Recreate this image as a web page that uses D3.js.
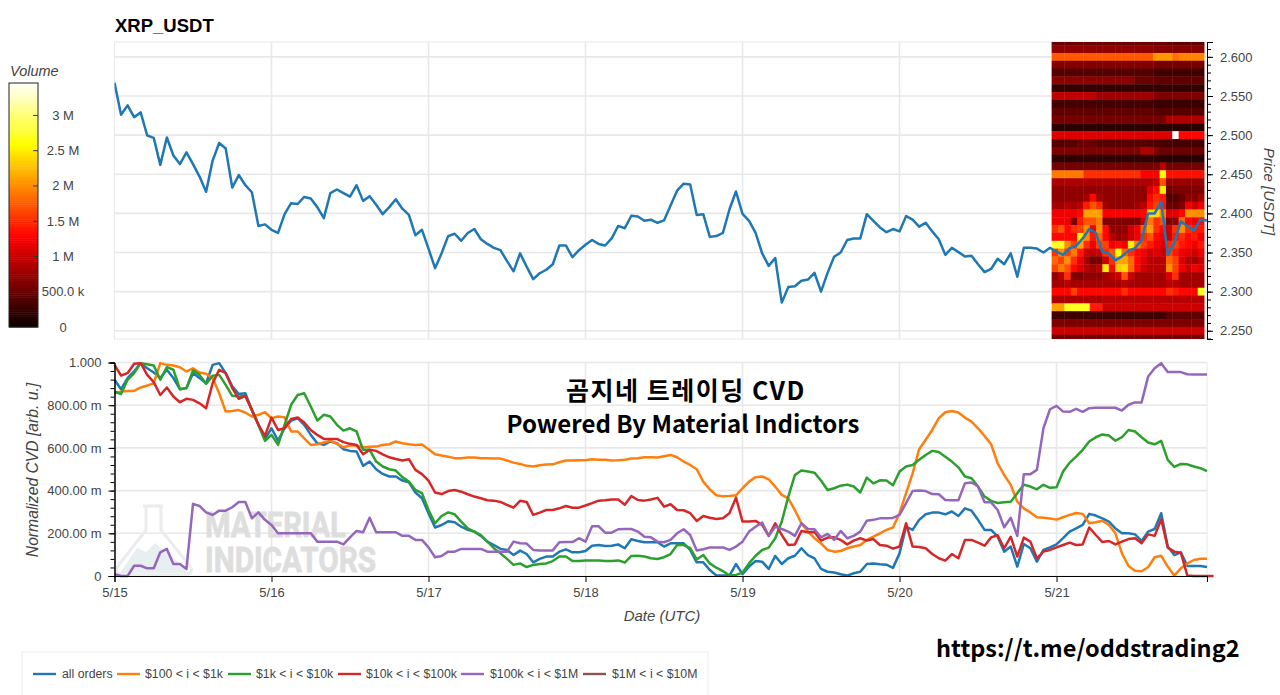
<!DOCTYPE html>
<html>
<head>
<meta charset="utf-8">
<script src="https://cdn.jsdelivr.net/npm/d3@7"></script>
<style>
  html, body { margin: 0; padding: 0; background: #fff; }
  svg { display: block; font-family: "Liberation Sans", Arial, sans-serif; }
  .tick text { fill: #444; font-size: 13px; }
</style>
</head>
<body>
<div id="chart"></div>
<script>
// hourly samples from 5/15 00:00
const price = [2.567,2.526,2.538,2.523,2.529,2.4995,2.4965,2.462,2.497,2.474,2.463,2.478,2.463,2.447,2.4275,2.4675,2.49,2.483,2.433,2.449,2.436,2.427,2.384,2.386,2.379,2.375,2.399,2.413,2.412,2.421,2.419,2.408,2.394,2.426,2.4305,2.426,2.4215,2.436,2.416,2.422,2.411,2.399,2.408,2.418,2.406,2.398,2.372,2.379,2.355,2.33,2.349,2.371,2.374,2.365,2.375,2.38,2.367,2.361,2.356,2.353,2.339,2.326,2.349,2.332,2.316,2.3235,2.328,2.335,2.359,2.359,2.344,2.353,2.36,2.366,2.361,2.359,2.368,2.384,2.381,2.397,2.396,2.3905,2.392,2.388,2.391,2.41,2.429,2.438,2.437,2.398,2.399,2.37,2.371,2.375,2.405,2.428,2.3995,2.3905,2.375,2.349,2.333,2.343,2.286,2.306,2.307,2.314,2.3155,2.324,2.3,2.324,2.3445,2.35,2.366,2.368,2.368,2.399,2.3905,2.382,2.376,2.38,2.377,2.3965,2.392,2.383,2.388,2.377,2.367,2.347,2.356,2.3505,2.345,2.346,2.335,2.325,2.329,2.342,2.335,2.349,2.319,2.356,2.356,2.355,2.35,2.356,2.351,2.347,2.3555,2.3585,2.368,2.38,2.375,2.351,2.349,2.34,2.345,2.3525,2.3555,2.366,2.4,2.4,2.415,2.347,2.362,2.39,2.384,2.378,2.392,2.391];

const allOrders = [919,875,927,958,997,973,953,927,966,927,875,880,950,927,903,989,997,950,888,852,856,778,708,641,692,634,692,728,739,708,661,622,614,630,622,594,586,583,516,536,500,478,466,466,447,439,391,364,294,
  227,239,256,252,231,216,208,188,161,145,127,122,98,119,103,64,80,91,91,114,125,111,111,117,142,145,141,142,148,130,172,164,158,158,158,138,153,153,153,122,64,64,28,2,2,2,56,9,44,70,67,33,94,56,83,95,130,98,83,33,20,16,8,2,
  13,20,56,59,55,53,38,106,231,216,263,289,297,297,289,302,281,317,306,263,216,216,184,114,138,44,150,130,67,122,134,148,177,208,223,239,291,283,270,255,223,200,200,195,164,208,220,294,138,98,111,47,47,47,42];
const orders100to1k = [856,864,867,867,883,892,903,997,989,986,978,958,973,953,947,927,856,770,773,777,766,747,755,767,739,747,744,677,677,645,614,617,625,633,619,603,611,611,603,605,606,614,617,630,622,617,614,616,594,
  570,564,559,552,552,555,555,552,552,550,550,541,531,525,516,513,519,522,523,533,541,541,542,542,547,544,544,541,542,545,550,552,556,556,555,561,567,556,536,520,500,442,406,378,373,375,378,411,442,463,466,453,419,380,364,309,247,208,177,153,122,114,117,130,
  138,145,169,184,200,216,227,294,388,481,594,638,684,739,767,773,766,742,723,692,656,617,528,473,427,348,317,298,275,273,269,264,275,286,295,291,247,252,259,239,200,106,47,25,22,41,88,95,44,2,36,59,75,81,81];
const orders1kto10k = [864,852,919,950,997,992,986,919,978,966,875,880,963,942,900,938,942,895,844,841,844,778,708,633,661,614,708,802,848,856,794,728,755,747,708,681,692,677,591,591,536,513,500,494,463,442,403,388,309,
  247,281,298,289,255,223,208,192,161,130,106,80,52,59,42,52,56,59,70,91,91,70,70,73,73,73,70,70,73,63,94,95,91,83,80,88,103,145,145,130,78,98,59,39,23,2,5,16,59,95,122,133,177,255,372,473,494,489,484,447,403,411,423,428,
  419,391,461,434,448,447,425,489,513,520,544,567,586,581,559,536,509,466,458,419,372,352,342,345,348,388,428,419,406,427,413,416,489,531,559,591,630,650,663,658,634,650,684,677,650,625,617,633,544,511,525,523,513,505,491];
const orders10kto100k = [989,939,950,994,997,942,908,848,883,841,814,830,825,809,786,903,966,950,880,830,844,778,708,656,742,684,692,736,742,719,684,661,642,642,642,627,619,614,570,591,586,570,556,548,541,547,497,477,447,
  391,384,398,403,395,383,372,364,355,353,347,333,320,352,347,286,297,309,309,317,328,320,320,330,341,353,355,358,358,334,375,356,353,358,366,325,336,309,308,294,258,281,273,267,270,294,367,255,255,258,239,188,247,192,145,148,211,205,206,166,180,181,169,148,
  166,177,166,173,145,142,128,138,247,138,136,130,103,83,72,103,83,169,169,156,142,181,191,130,184,91,180,161,83,114,122,134,145,156,145,148,227,192,159,164,148,161,173,177,153,195,188,266,133,114,109,2,0,0,0,0];
const orders100kto1M = [9,0,0,48,48,36,36,111,127,56,56,33,338,328,298,286,306,306,322,347,347,270,298,263,239,200,200,200,200,200,200,161,161,161,161,148,181,211,205,273,205,205,205,205,188,188,169,169,134,
  88,94,114,114,127,127,127,127,114,114,114,114,161,153,152,122,120,120,120,158,159,159,177,161,233,233,203,203,219,220,220,208,184,181,161,158,169,200,219,192,119,125,134,134,134,122,138,161,208,231,250,188,231,220,208,188,247,220,219,181,197,169,211,177,
  188,208,259,263,270,270,272,286,341,398,400,398,384,383,356,355,355,434,438,419,345,345,309,228,273,188,477,477,497,692,781,797,770,769,783,769,786,788,788,788,788,775,802,813,813,934,973,997,956,955,955,945,944,944,944];

const seriesNames = ['all orders','$100 < i < $1k','$1k < i < $10k','$10k < i < $100k','$100k < i < $1M','$1M < i < $10M'];
const seriesColors = ['#1f77b4','#ff7f0e','#2ca02c','#d62728','#9467bd','#8c564b'];

const dayLabels = ['5/15','5/16','5/17','5/18','5/19','5/20','5/21'];
const dayHours = [0,24,48,72,96,120,144];
const priceTicks = [2.25,2.3,2.35,2.4,2.45,2.5,2.55,2.6];
const cvdTicks = [0,200,400,600,800,1000];
const cvdLabels = ['0','200.00 m','400.00 m','600.00 m','800.00 m','1.000'];
const volumeTicks = [0,0.5,1,1.5,2,2.5,3];
const volumeLabels = ['0','500.0 k','1 M','1.5 M','2 M','2.5 M','3 M'];

// volume profile of the last day, in millions, one row per price level, top row first
const heatLevels = [2.62,2.61,2.60,2.59,2.58,2.57,2.56,2.55,2.54,2.53,2.52,2.51,2.50,2.49,2.48,2.47,2.46,2.45,2.44,2.43,2.42,2.41,2.40,2.39,2.38,2.37,2.36,2.35,2.34,2.33,2.32,2.31,2.30,2.29,2.28,2.27,2.26,2.25,2.24];
const heatRows = [
  [.5,.5,.5,.5,.5,.5,.5,.5,.5,.5,.5,.5,.5,.5,.5,.5,.5,.5,.45,.45,.45,.45,.45,.45],
  [.7,.7,.7,.7,.7,.7,.7,.7,.7,.7,.7,.7,.7,.7,.7,.7,.65,.65,.65,.65,.65,.65,.65,.65],
  [1.72,1.72,1.72,1.72,1.72,1.72,1.72,1.72,1.72,1.72,1.72,1.72,1.72,1.72,1.72,1.72,2.05,2.05,2.05,1.85,1.95,1.95,1.95,1.95],
  [.62,.62,.62,.62,.62,.62,.62,.62,.62,.62,.62,.62,.62,.62,.62,.62,.55,.55,.55,.55,.55,.55,.55,.55],
  [.38,.38,.38,.38,.38,.38,.38,.38,.38,.38,.38,.38,.38,.38,.38,.38,.28,.28,.28,.28,.28,.28,.28,.28],
  [.68,.68,.68,.68,.68,.68,.68,.68,.68,.68,.68,.68,.68,.5,.5,.5,.45,.45,.45,.45,.45,.45,.45,.45],
  [.22,.22,.22,.22,.22,.22,.22,.22,.22,.22,.22,.22,.22,.22,.22,.22,.22,.22,.22,.22,.22,.22,.22,.22],
  [.95,.95,.95,.95,.95,.95,.95,.78,.78,.78,.78,.78,.78,.78,.78,.78,.6,.6,.6,.6,.6,.6,.6,.6],
  [.3,.3,.3,.3,.3,.3,.3,.3,.3,.3,.3,.3,.3,.3,.3,.3,.25,.25,.25,.25,.25,.25,.25,.25],
  [.45,.45,.45,.45,.45,.45,.45,.45,.45,.45,.45,.45,.45,.45,.45,.45,.4,.4,.4,.4,.4,.4,.4,.4],
  [.55,.55,.55,.55,.55,.55,.55,.55,.55,.55,.55,.55,.55,.55,.55,.55,.55,.55,.85,.85,.85,.85,.85,.85],
  [.18,.18,.18,.18,.18,.18,.18,.18,.18,.18,.18,.18,.18,.18,.18,.18,.18,.18,.18,.18,.18,.18,.18,.18],
  [1.1,1.1,1.1,1.1,1.1,1.1,1.1,1.1,1.1,1.1,1.1,1.1,1.1,1.1,1.1,1.1,1.1,1.1,1.1,3.46,1.3,1.3,1.3,1.3],
  [.4,.4,.4,.4,.5,.5,.5,.4,.4,.4,.4,.4,.4,.4,.4,.35,.35,.3,.3,.3,.3,.3,.3,.3],
  [.6,.6,.6,.6,.6,.6,.6,.6,.6,.6,.6,.6,.6,.6,.85,.85,.6,.5,.5,.5,.5,.5,.5,.5],
  [.2,.2,.2,.2,.2,.2,.2,.2,.2,.2,.2,.2,.2,.2,.2,.2,.2,.15,.15,.15,.15,.15,.15,.15],
  [.55,.55,.55,.55,.55,.55,.55,.55,.55,.55,.55,.55,.55,.55,.55,.55,.55,.9,.55,.55,.55,.55,.55,.55],
  [1.9,1.9,1.9,1.9,1.9,1.5,1.5,1.5,1.5,1.5,1.5,1.5,1.5,1.5,1.25,1.25,1.25,2.6,1.35,1.35,1.35,1.35,1.35,1.35],
  [.85,.85,.85,.85,.85,.85,.85,.85,.85,.85,.85,.85,.85,.85,.85,.85,.95,1.7,.75,.75,.75,.75,.75,.75],
  [.7,.7,.7,.7,.7,.7,.7,.7,.7,.7,.7,.7,.7,.7,.7,1.1,1.3,2.5,.5,.6,.6,.6,.6,.6],
  [.7,.7,.7,.7,.7,.8,1.3,.8,.7,.7,.7,.7,.7,.7,.7,1.3,1.5,1.4,.35,.4,.5,.7,.6,.8],
  [.8,.8,.9,.8,.9,1.4,1.7,1.5,.8,.7,.7,.7,.7,.8,.9,1.4,1.6,1.4,.5,.5,.6,1.2,1.0,1.2],
  [1.2,1.2,1.2,1.2,1.3,2.1,2.1,2.1,1.25,1.25,1.25,1.25,1.25,1.25,1.3,2.4,2.4,2.0,1.1,1.1,1.3,2.0,2.0,2.0],
  [1.2,1.2,1.2,.6,1.4,1.7,1.7,1.9,.6,.6,.6,.6,.6,.6,1.0,1.9,1.5,1.7,.6,.7,1.8,1.3,1.2,1.3],
  [1.5,1.7,1.3,1.5,1.6,2.0,1.2,2.0,1.3,.7,.7,.7,1.0,1.2,1.8,2.1,1.5,1.3,1.0,1.5,2.0,1.5,1.4,1.4],
  [1.3,1.3,1.3,1.3,2.5,2.0,1.4,1.8,1.3,.9,.7,.8,1.0,1.2,1.5,1.7,1.3,1.2,1.0,1.4,1.5,1.3,1.4,1.2],
  [2.7,2.7,2.0,1.6,2.1,1.5,1.2,1.6,1.6,1.2,1.3,1.2,2.5,1.9,1.6,1.4,1.2,1.1,1.5,1.6,1.4,1.3,1.2,1.4],
  [1.5,2.0,1.6,1.9,1.4,1.0,.9,1.0,1.5,1.7,2.6,1.8,1.5,1.3,1.2,1.0,1.1,1.0,1.6,1.4,1.2,1.1,1.0,1.2],
  [1.8,1.6,2.0,1.5,1.2,.8,.55,.55,1.0,1.5,2.1,2.1,1.8,1.3,1.1,.9,.9,.9,1.8,1.6,1.1,.9,.8,1.0],
  [1.6,1.9,1.7,1.3,1.1,.9,.8,.9,2.5,1.3,2.3,2.4,1.8,1.3,1.0,.9,.9,.9,2.0,1.6,1.2,1.0,1.2,1.1],
  [.7,.9,1.5,.6,.6,.7,.7,.7,.8,.9,1.0,1.7,1.0,.8,.8,.8,.8,.8,1.1,1.5,.8,.8,.8,.8],
  [.8,.8,.9,.8,.8,.8,.8,.8,.8,.8,.8,.9,.8,.8,.8,.8,.8,.8,.9,.9,.8,.8,.8,.8],
  [1.3,1.3,1.3,1.6,1.3,1.3,1.3,1.3,1.3,1.3,1.3,1.5,1.3,1.3,1.3,1.3,1.3,1.3,1.5,1.4,1.3,1.3,1.3,2.7],
  [.85,.85,.85,.85,.85,.85,.85,.85,.9,.9,.9,.9,.9,.9,.9,.9,.9,.9,.9,.9,.9,.9,.9,.9],
  [2.1,2.1,2.7,2.7,2.7,2.7,1.4,1.4,1.0,1.0,1.0,1.0,1.0,1.0,1.0,1.0,1.0,1.0,1.0,1.0,1.0,1.0,1.0,1.0],
  [.28,.28,.28,.28,.28,.28,.28,.28,.28,.28,.28,.28,.28,.28,.28,.28,.28,.28,.45,.45,.45,.45,.45,.45],
  [.6,.6,.6,.6,.6,.6,.6,.6,.6,.6,.6,.6,.6,.6,.6,.6,.6,.6,.6,.6,.6,.6,.6,.6],
  [1.0,1.0,1.0,1.0,1.0,1.0,1.0,1.0,1.0,1.0,1.0,1.0,1.0,1.0,1.0,1.0,1.0,1.0,1.0,1.0,1.0,1.0,1.0,1.0],
  [.55,.55,.55,.55,.55,.55,.55,.55,.55,.55,.55,.55,.55,.55,.55,.55,.55,.55,.55,.55,.55,.55,.55,.55]
];

const width = 1280, height = 695;
const left = 114.5, right = 1207;
const topPlot = {top: 42, bottom: 339};
const cvdPlot = {top: 362.5, bottom: 576};

const svg = d3.select('#chart').append('svg').attr('width', width).attr('height', height);

const x = d3.scaleLinear().domain([0, 167]).range([left, right]);
const yPrice = d3.scaleLinear().domain([2.2395, 2.619]).range([topPlot.bottom, topPlot.top]);
const yCvd = d3.scaleLinear().domain([0, 1000]).range([cvdPlot.bottom, cvdPlot.top]);

// matplotlib style "hot" ramp, the chart's colorbar tops out near 3.46 M
const heatColor = d3.scaleLinear()
  .domain([0, 1.27, 2.58, 3.46])
  .range(['#0a0000', '#ff0000', '#ffff00', '#ffffff'])
  .clamp(true);

function drawGrid(plot, yScale, ticks) {
  const g = svg.append('g').attr('stroke', '#e8e8e8').attr('stroke-width', 1.6).attr('fill', 'none');
  g.selectAll('.h').data(ticks).join('line')
    .attr('x1', left).attr('x2', right)
    .attr('y1', d => yScale(d)).attr('y2', d => yScale(d));
  g.selectAll('.v').data(dayHours.slice(1)).join('line')
    .attr('x1', d => x(d)).attr('x2', d => x(d))
    .attr('y1', plot.top).attr('y2', plot.bottom);
  g.append('rect').attr('x', left).attr('y', plot.top)
    .attr('width', right - left).attr('height', plot.bottom - plot.top)
    .attr('stroke-width', 1);
}

drawGrid(topPlot, yPrice, priceTicks);
drawGrid(cvdPlot, yCvd, cvdTicks.slice(1));

// heatmap, 24 columns across the last day
const heatStart = 143.25, heatEnd = 166.55;
const heatX = d3.scaleBand().domain(d3.range(24)).range([x(heatStart), x(heatEnd)]);
const defs = svg.append('defs');
defs.append('clipPath').attr('id', 'top-clip').append('rect')
  .attr('x', left).attr('y', topPlot.top).attr('width', right - left).attr('height', topPlot.bottom - topPlot.top);

const heat = svg.append('g').attr('clip-path', 'url(#top-clip)');
heatRows.forEach((row, r) => {
  heat.append('g').selectAll('rect').data(row).join('rect')
    .attr('x', (d, c) => heatX(c))
    .attr('width', heatX.bandwidth() + 0.4)
    .attr('y', yPrice(heatLevels[r] + 0.005))
    .attr('height', yPrice(heatLevels[r] - 0.005) - yPrice(heatLevels[r] + 0.005) + 0.4)
    .attr('fill', d => heatColor(d));
});

// price line
const priceLine = d3.line().x((d, i) => x(i)).y(d => yPrice(d));
svg.append('path').datum(price)
  .attr('fill', 'none').attr('stroke', '#1f77b4').attr('stroke-width', 2.5).attr('stroke-linejoin', 'round')
  .attr('clip-path', 'url(#top-clip)')
  .attr('d', priceLine);

// right axis of the price panel
const priceAxis = d3.axisRight(yPrice).tickValues(priceTicks).tickFormat(d3.format('.3f')).tickSizeOuter(0).tickSize(6).tickPadding(7);
const priceMinor = d3.axisRight(yPrice).tickValues(d3.range(2.24, 2.6151, 0.01)).tickFormat('').tickSizeOuter(0).tickSize(4);
svg.append('g').attr('transform', `translate(${right},0)`).call(priceMinor);
svg.append('g').attr('transform', `translate(${right},0)`).call(priceAxis);

svg.append('text').text('XRP_USDT').attr('x', 115).attr('y', 32)
  .attr('font-size', 18.5).attr('font-weight', 'bold').attr('fill', '#000');
svg.append('text').text('Price [USDT]')
  .attr('transform', 'translate(1264,191.5) rotate(90)')
  .attr('text-anchor', 'middle').attr('font-size', 15).attr('font-style', 'italic').attr('fill', '#444');

// colorbar
const barX = 9, barW = 29;
const barY = d3.scaleLinear().domain([0, 3.46]).range([327, 83]);
svg.append('text').text('Volume').attr('x', 10).attr('y', 76)
  .attr('font-size', 14.5).attr('font-style', 'italic').attr('fill', '#444');
const barSteps = d3.range(0, 3.46, 0.03);
svg.append('g').selectAll('rect').data(barSteps).join('rect')
  .attr('x', barX).attr('width', barW)
  .attr('y', d => barY(d + 0.03)).attr('height', d => barY(d) - barY(d + 0.03) + 0.5)
  .attr('fill', d => heatColor(d));
svg.append('rect').attr('x', barX).attr('y', barY(3.46)).attr('width', barW).attr('height', barY(0) - barY(3.46))
  .attr('fill', 'none').attr('stroke', '#222').attr('stroke-width', 1);
svg.append('g').selectAll('line').data(volumeTicks.slice(1)).join('line')
  .attr('x1', barX + barW - 5).attr('x2', barX + barW)
  .attr('y1', d => barY(d)).attr('y2', d => barY(d)).attr('stroke', '#333');
svg.append('g').selectAll('text').data(volumeTicks).join('text')
  .attr('x', 63).attr('y', d => barY(d) + 4.5).attr('text-anchor', 'middle')
  .attr('font-size', 13).attr('fill', '#444')
  .text((d, i) => volumeLabels[i]);

// watermark behind the cvd lines
const mark = svg.append('g');
mark.append('path')
  .attr('d', 'M143 506 L163 506 M146 506 L146 530 L118 566 Q113 574 124 575 L183 575 Q195 574 190 566 L161 530 L161 506')
  .attr('fill', 'none').attr('stroke', '#ececec').attr('stroke-width', 3);
mark.append('path')
  .attr('d', 'M120 573 L137 548 L146 552 L155 543 L176 560 L188 573 Z')
  .attr('fill', '#e8eff1');
mark.append('text').text('MATERIAL').attr('x', 205).attr('y', 537)
  .attr('font-size', 35).attr('font-weight', 'bold').attr('fill', '#dedede').attr('stroke', '#dedede').attr('stroke-width', 0.8)
  .attr('font-family', 'Roboto').attr('textLength', 141).attr('lengthAdjust', 'spacingAndGlyphs');
mark.append('text').text('INDICATORS').attr('x', 205).attr('y', 572)
  .attr('font-size', 35).attr('font-weight', 'bold').attr('fill', '#dedede').attr('stroke', '#dedede').attr('stroke-width', 0.8)
  .attr('font-family', 'Roboto').attr('textLength', 171).attr('lengthAdjust', 'spacingAndGlyphs');

// cvd lines
const cvdSeries = [allOrders, orders100to1k, orders1kto10k, orders10kto100k, orders100kto1M];
const cvdLine = d3.line().x((d, i) => x(i)).y(d => yCvd(d));
svg.append('g').selectAll('path').data(cvdSeries).join('path')
  .attr('fill', 'none').attr('stroke-width', 2.5).attr('stroke-linejoin', 'round')
  .attr('stroke', (d, i) => seriesColors[i])
  .attr('d', cvdLine);

// cvd axes
const cvdAxis = d3.axisLeft(yCvd).tickValues(cvdTicks).tickFormat((d, i) => cvdLabels[i]).tickSizeOuter(0).tickSize(6).tickPadding(7);
const cvdMinor = d3.axisLeft(yCvd).tickValues(d3.range(0, 1001, 40)).tickFormat('').tickSizeOuter(0).tickSize(4);
svg.append('g').attr('transform', `translate(${left},0)`).call(cvdMinor);
svg.append('g').attr('transform', `translate(${left},0)`).call(cvdAxis);

const dayAxis = d3.axisBottom(x).tickValues(dayHours).tickFormat((d, i) => dayLabels[i]).tickSizeOuter(0).tickSize(6).tickPadding(6);
svg.append('g').attr('transform', `translate(0,${cvdPlot.bottom})`).call(dayAxis);

svg.append('text').text('Normalized CVD [arb. u.]')
  .attr('transform', 'translate(38,470) rotate(-90)')
  .attr('text-anchor', 'middle').attr('font-size', 15.7).attr('font-style', 'italic').attr('fill', '#444');
svg.append('text').text('Date (UTC)').attr('x', 662).attr('y', 621)
  .attr('text-anchor', 'middle').attr('font-size', 15).attr('font-style', 'italic').attr('fill', '#444');

// pasted captions
const captionFont = '"Noto Sans CJK KR", "Noto Sans", sans-serif';
svg.append('text').text('곰지네 트레이딩 CVD').attr('x', 686).attr('y', 400)
  .attr('text-anchor', 'middle').attr('font-family', captionFont).attr('font-size', 25).attr('letter-spacing', 1.5).attr('font-weight', 'bold').attr('fill', '#000');
svg.append('text').text('Powered By Material Indictors').attr('x', 683).attr('y', 433)
  .attr('text-anchor', 'middle').attr('font-family', captionFont).attr('font-size', 24).attr('font-weight', 'bold').attr('fill', '#000');
svg.append('text').text('https://t.me/oddstrading2').attr('x', 936).attr('y', 657)
  .attr('font-family', captionFont).attr('font-size', 23.5).attr('font-weight', 'bold').attr('fill', '#000');

// legend
const legendLine = [33, 117, 228, 338, 461, 583];
const legendText = [62, 145, 256, 366, 490, 612];
const legend = svg.append('g');
legend.append('rect').attr('x', 22).attr('y', 652).attr('width', 686).attr('height', 50)
  .attr('fill', '#fff').attr('stroke', '#eeeeee');
seriesNames.forEach((name, i) => {
  legend.append('line').attr('x1', legendLine[i]).attr('x2', legendLine[i] + 23)
    .attr('y1', 674).attr('y2', 674).attr('stroke', seriesColors[i]).attr('stroke-width', 2.4);
  legend.append('text').text(name).attr('x', legendText[i]).attr('y', 678)
    .attr('font-size', 12.3).attr('fill', '#444');
});
</script>
</body>
</html>
